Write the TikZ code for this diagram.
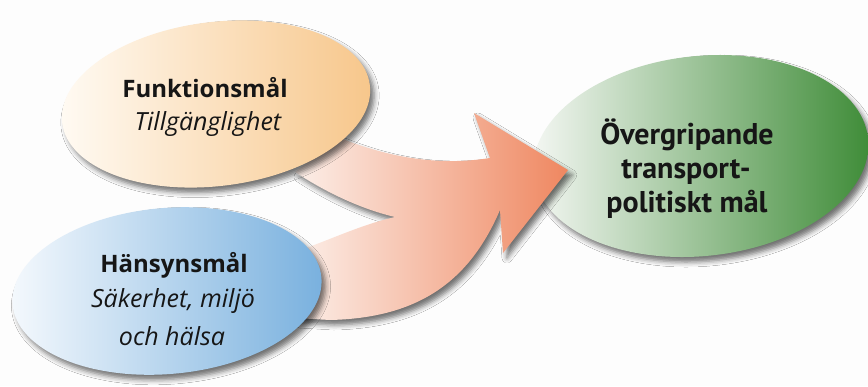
\documentclass[tikz,border=0pt]{standalone}
\usepackage{fontspec}
\setmainfont{Open Sans}
\newfontfamily\ptsans{PT Sans}
\usetikzlibrary{shapes.geometric,shadows.blur}
\definecolor{bgc}{HTML}{FDFDFD}
\definecolor{orL}{HTML}{FFFBF4}
\definecolor{orR}{HTML}{F7C68A}
\definecolor{blL}{HTML}{F5F9FD}
\definecolor{blR}{HTML}{78B0DE}
\definecolor{grL}{HTML}{F6F8F5}
\definecolor{grM}{HTML}{A6C6A0}
\definecolor{grR}{HTML}{3D8B36}
\definecolor{arL}{HTML}{FCEFE9}
\definecolor{arR}{HTML}{EF8760}
\definecolor{txt}{HTML}{161616}
\begin{document}
\begin{tikzpicture}[x=1pt,y=-1pt,
  shad/.style={blur shadow={shadow xshift=4pt, shadow yshift=-5pt, shadow blur radius=5pt, shadow opacity=55}},
  oval/.style={ellipse, inner sep=0pt, shad},
  lbl/.style={anchor=base, inner sep=0pt, text=txt},
  headf/.style={font=\bfseries\fontsize{24}{24}\selectfont},
  subf/.style={font=\itshape\fontsize{25}{25}\selectfont},
  greenf/.style={font=\ptsans\bfseries\fontsize{30}{30}\selectfont}]
\fill[bgc] (0,0) rectangle (868,386);
\useasboundingbox (0,0) rectangle (868,386);

% target ellipse
\node[oval, minimum width=336pt, minimum height=200pt, rotate=6,
      left color=grL, middle color=grM, right color=grR] (goal) at (701,156) {};

% merging arrow
\path[shad, left color=arL, right color=arR]
  (340,138) .. controls (390,158) and (440,166) .. (490,158)
  -- (474,113) -- (568,170) -- (503,253) -- (500,210)
  .. controls (470,280) and (420,318) .. (330,320)
  -- (296,318) -- (295,252)
  .. controls (330,240) and (360,225) .. (395,217)
  .. controls (365,210) and (330,195) .. (295,172) -- cycle;

% source ellipses
\node[oval, minimum width=310pt, minimum height=164pt, rotate=7,
      left color=orL, right color=orR] (fun) at (216,104) {};
\node[oval, minimum width=310pt, minimum height=166pt, rotate=5,
      left color=blL, right color=blR] (han) at (167,291) {};

% texts
\node[lbl, headf] (funT) at (205,97) {Funktionsmål};
\node[lbl, subf] (funS) at (208,130) {Tillgänglighet};
\node[lbl, headf] (hanT) at (174,272) {Hänsynsmål};
\node[lbl, subf] (hanS1) at (173,307) {Säkerhet, miljö};
\node[lbl, subf] (hanS2) at (172,345) {och hälsa};
\node[lbl, greenf] (goalT1) at (687,144) {Övergripande};
\node[lbl, greenf] (goalT2) at (686,178) {transport-};
\node[lbl, greenf] (goalT3) at (687,212) {politiskt mål};
\end{tikzpicture}
\end{document}
